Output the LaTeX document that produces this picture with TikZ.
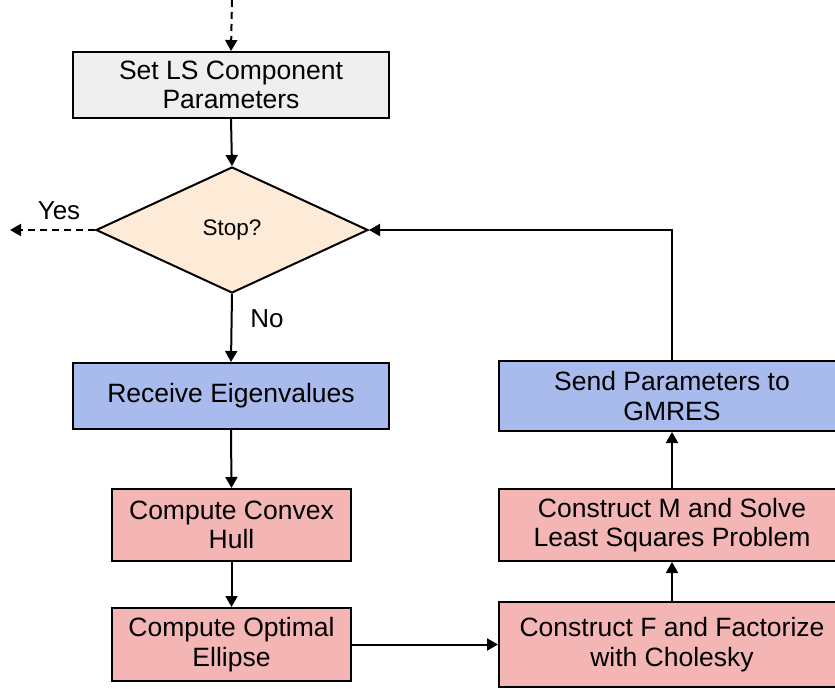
\documentclass[tikz,border=0pt]{standalone}
\usepackage{fontspec}
\setmainfont{Liberation Sans}
\usetikzlibrary{arrows.meta,shapes.geometric}
\definecolor{grayfill}{HTML}{EFEFEF}
\definecolor{peach}{HTML}{FDEBD7}
\definecolor{bluefill}{HTML}{A9BBEC}
\definecolor{pinkfill}{HTML}{F4B5B5}
\begin{document}
\begin{tikzpicture}[x=1pt,y=-1pt,
  box/.style={draw=black,line width=2pt,rectangle,align=center,
    font=\fontsize{26.5}{29.5}\selectfont,inner sep=0pt},
  arr/.style={line width=2pt,-{Triangle[length=11pt,width=12pt]}},
  lbl/.style={font=\fontsize{26}{29}\selectfont,inner sep=0pt}]
\useasboundingbox (0,0) rectangle (835,688);
\clip (0,0) rectangle (835,688);
\fill[white] (0,0) rectangle (835,688);

\coordinate (start) at (232,0);
\node[box,fill=grayfill,minimum width=316pt,minimum height=66pt] (set) at (231,85) {Set LS Component\\Parameters};
\node[draw=black,line width=2pt,shape=diamond,fill=peach,minimum width=272pt,minimum height=126pt,inner sep=0pt,
  font=\fontsize{22.5}{26}\selectfont] (stop) at (232,230) {Stop?};
\coordinate (yesend) at (10,230);
\node[lbl] (yes) at (59,211) {Yes};
\node[lbl] (no) at (267,319) {No};
\node[box,fill=bluefill,minimum width=316pt,minimum height=66pt] (recv) at (231,396) {Receive Eigenvalues};
\node[box,fill=pinkfill,minimum width=239pt,minimum height=72pt] (hull) at (231.5,525) {Compute Convex\\Hull};
\node[box,fill=pinkfill,minimum width=239pt,minimum height=73pt] (ell) at (231.5,644.5) {Compute Optimal\\Ellipse};
\node[box,fill=pinkfill,minimum width=346pt,minimum height=85pt] (chol) at (672,644.5) {Construct F and Factorize\\with Cholesky};
\node[box,fill=pinkfill,minimum width=346pt,minimum height=72pt] (lsq) at (672,525) {Construct M and Solve\\Least Squares Problem};
\node[box,fill=bluefill,minimum width=346pt,minimum height=70pt] (send) at (672,396) {Send Parameters to\\GMRES};
\coordinate (corner) at (672,230);

\draw[arr,dashed,dash pattern=on 7pt off 5pt] (start) -- (set.north);
\draw[arr] (set.south) -- (stop.north);
\draw[arr,dashed,dash pattern=on 7pt off 5pt] (stop.west) -- (yesend);
\draw[arr] (stop.south) -- (recv.north);
\draw[arr] (recv.south) -- (hull.north);
\draw[arr] (hull.south) -- (ell.north);
\draw[arr] (ell.east) -- (chol.west);
\draw[arr] (chol.north) -- (lsq.south);
\draw[arr] (lsq.north) -- (send.south);
\draw[arr] (send.north) -- (corner) -- (stop.east);
\end{tikzpicture}
\end{document}
